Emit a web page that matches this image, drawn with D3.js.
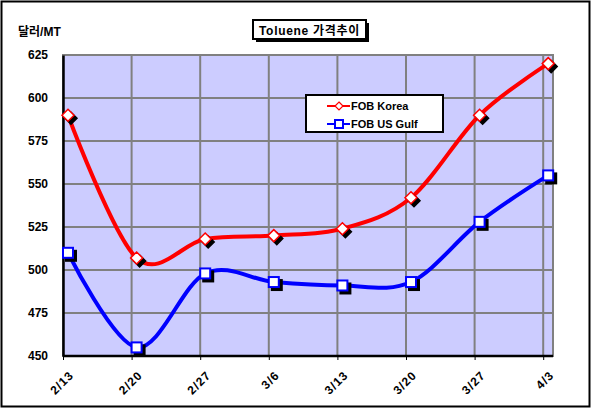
<!DOCTYPE html>
<html><head><meta charset="utf-8">
<script src="https://cdn.jsdelivr.net/npm/d3@7"></script>
<style>body{margin:0;background:#fff}svg{display:block}text{font-family:Arial,"Liberation Sans","Noto Sans CJK KR",sans-serif;font-weight:bold}</style>
</head><body>
<script>
const categories = ["2/13","2/20","2/27","3/6","3/13","3/20","3/27","4/3"];
const fobKorea = [590, 507, 518, 520, 524, 542, 590, 620];
const fobUSGulf = [510, 455, 498, 493, 491, 493, 528, 555];
const yTicks = [450, 475, 500, 525, 550, 575, 600, 625];
const seriesNames = ["FOB Korea", "FOB US Gulf"];
const titleText = "Toluene 가격추이";
const yUnit = "달러/MT";

const W = 592, H = 409;
const svg = d3.select("body").append("svg").attr("width", W).attr("height", H);
svg.append("rect").attr("x",1.5).attr("y",1.5).attr("width",588).attr("height",405).attr("fill","#fff").attr("stroke","#000").attr("stroke-width",2);

const L = 63, R = 553, T = 55, B = 356;
const catStep = 68.6;
const x = d3.scalePoint().domain(categories).range([L, L + catStep*7]);
const y = d3.scaleLinear().domain([450, 625]).range([B, T]);
const mOff = 5;

// plot background
svg.append("rect").attr("x",L).attr("y",T).attr("width",R-L).attr("height",B-T).attr("fill","#CCCCFF").attr("stroke","#808080").attr("stroke-width",2);

// gridlines
svg.append("g").selectAll("line").data(yTicks.slice(1,-1)).join("line")
  .attr("x1",L).attr("x2",R).attr("y1",d=>y(d)).attr("y2",d=>y(d)).attr("stroke","#808080").attr("stroke-width",2);
svg.append("g").selectAll("line").data(categories.slice(1)).join("line")
  .attr("x1",d=>x(d)).attr("x2",d=>x(d)).attr("y1",T).attr("y2",B).attr("stroke","#808080").attr("stroke-width",2);

// axes
const yAxis = d3.axisLeft(y).tickValues(yTicks).tickSize(0).tickPadding(15);
const gy = svg.append("g").attr("transform",`translate(${L},0)`).call(yAxis);
gy.select(".domain").attr("stroke","#000").attr("stroke-width",2.5);
gy.selectAll("text").attr("font-size",12).attr("fill","#000");

const xAxis = d3.axisBottom(x).tickSize(4).tickPadding(6);
const gx = svg.append("g").attr("transform",`translate(0,${B})`).call(xAxis);
gx.select(".domain").attr("stroke","#000").attr("stroke-width",2.5).attr("d",`M${L},0H${R}`);
gx.selectAll("line").attr("stroke","#000");
gx.selectAll("text").attr("font-size",12).attr("fill","#000").attr("letter-spacing","1")
  .attr("x",0).attr("y",0).attr("dy","0.35em")
  .attr("text-anchor","end").attr("transform","translate(8,17) rotate(-45)");

// y unit
svg.append("text").attr("x",18).attr("y",36).attr("font-size",12).text(yUnit);

// title
const tb = {x:253, y:20, w:113, h:19};
svg.append("rect").attr("x",tb.x+3).attr("y",tb.y+3).attr("width",tb.w).attr("height",tb.h).attr("fill","#000");
svg.append("rect").attr("x",tb.x).attr("y",tb.y).attr("width",tb.w).attr("height",tb.h).attr("fill","#fff").attr("stroke","#000").attr("stroke-width",2);
svg.append("text").attr("x",tb.x+tb.w/2).attr("y",tb.y+14.5).attr("text-anchor","middle").attr("font-size",12).attr("letter-spacing","0.7").text(titleText);

// lines
const line = d3.line().x((d,i)=>x(categories[i])+mOff).y(d=>y(d)).curve(d3.curveCardinal.tension(0));
const series = [
  {vals: fobKorea, color:"#FF0000", shape:"diamond"},
  {vals: fobUSGulf, color:"#0000FF", shape:"square"}
];
series.forEach(s=>{
  svg.append("path").attr("d",line(s.vals)).attr("fill","none").attr("stroke",s.color).attr("stroke-width",4);
});
function marker(g, shape, cx, cy, fill, stroke) {
  if (shape==="diamond") {
    g.append("path").attr("d",`M${cx},${cy-6}L${cx+6},${cy}L${cx},${cy+6}L${cx-6},${cy}Z`).attr("fill",fill).attr("stroke",stroke).attr("stroke-width",1.5);
  } else {
    g.append("rect").attr("x",cx-5).attr("y",cy-5).attr("width",10).attr("height",10).attr("fill",fill).attr("stroke",stroke).attr("stroke-width",2);
  }
}
series.forEach(s=>{
  const g = svg.append("g");
  s.vals.forEach((v,i)=>{
    const cx = x(categories[i])+mOff, cy = y(v);
    marker(g, s.shape, cx+3, cy+3, "#000", "#000");
    marker(g, s.shape, cx, cy, "#fff", s.color);
  });
});

// legend
const lg = svg.append("g");
lg.append("rect").attr("x",306).attr("y",95).attr("width",137).attr("height",37).attr("fill","#fff").attr("stroke","#000").attr("stroke-width",2);
series.forEach((s,i)=>{
  const ly = 106 + i*18;
  lg.append("line").attr("x1",327).attr("x2",350).attr("y1",ly).attr("y2",ly).attr("stroke",s.color).attr("stroke-width",2);
  if (s.shape==="diamond") {
    lg.append("path").attr("d",`M339,${ly-4}L343,${ly}L339,${ly+4}L335,${ly}Z`).attr("fill","#fff").attr("stroke",s.color).attr("stroke-width",1.2);
  } else {
    lg.append("rect").attr("x",335).attr("y",ly-4).attr("width",8).attr("height",8).attr("fill","#fff").attr("stroke",s.color).attr("stroke-width",2);
  }
  lg.append("text").attr("x",351).attr("y",ly+4).attr("font-size",11).text(seriesNames[i]);
});
</script>
</body></html>
